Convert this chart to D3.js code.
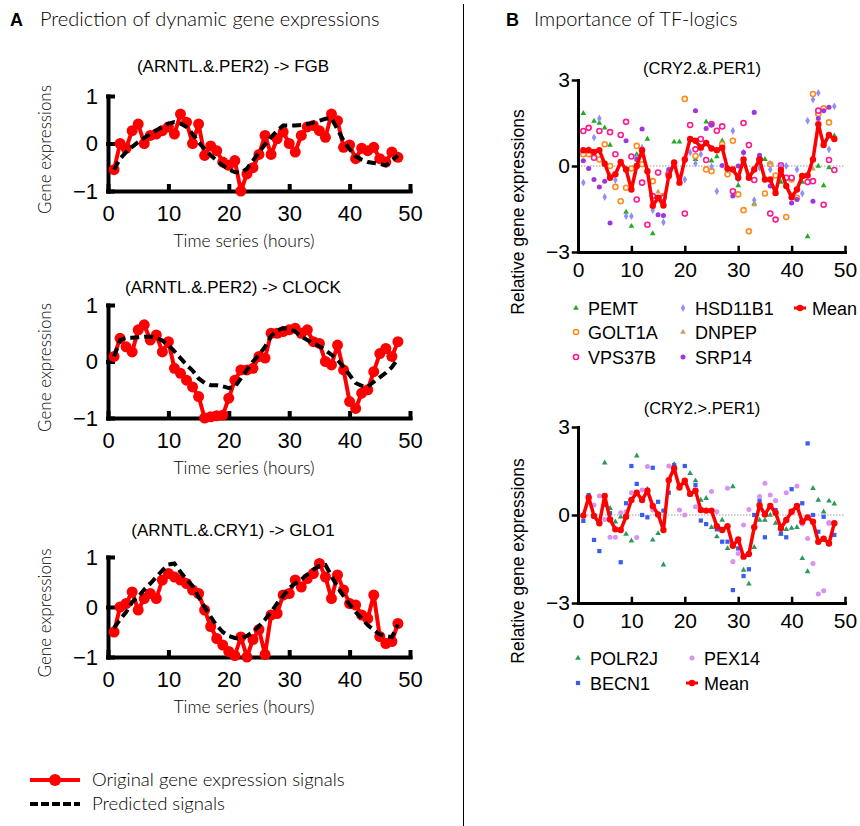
<!DOCTYPE html>
<html>
<head>
<meta charset="utf-8">
<script src="https://cdn.jsdelivr.net/npm/d3@7"></script>
<style>
body { margin: 0; background: #fff; }
.head { font-family: Lato, "Open Sans", sans-serif; font-weight: 300; font-size: 20px; }
.lbl { font-family: Lato, "Open Sans", sans-serif; font-weight: 300; font-size: 17px; }
.ptitle { font-family: "Liberation Sans", Arial, sans-serif; font-size: 17px; }
.rlab { font-family: "Liberation Sans", Arial, sans-serif; font-size: 17.5px; }
.leg { font-family: "Liberation Sans", Arial, sans-serif; font-size: 18px; }
.axis text { font-family: "Liberation Sans", Arial, sans-serif; fill: #000; }
.axis line, .axis path { stroke: #000; stroke-linecap: square; }
</style>
</head>
<body>
<svg id="chart" width="860" height="826"></svg>
<script>
var hours = [1,2,3,4,5,6,7,8,9,10,11,12,13,14,15,16,17,18,19,20,21,22,23,24,
             25,26,27,28,29,30,31,32,33,34,35,36,37,38,39,40,41,42,43,44,45,46,47,48];

// panel A: original vs predicted
var fgbOrig = [-0.55,0.0,-0.1,0.27,0.41,0.0,0.17,0.2,0.27,0.35,
               0.2,0.62,0.45,0.0,0.41,-0.25,-0.05,-0.15,-0.39,-0.46,
               -0.36,-1.0,-0.64,-0.51,-0.23,0.17,-0.23,0.1,0.24,0.0,
               -0.18,0.17,0.35,0.38,0.27,0.13,0.62,0.48,-0.08,-0.03,
               -0.32,-0.1,-0.15,-0.08,-0.32,-0.39,-0.18,-0.29];
var fgbPred = [-0.55,-0.32,-0.18,-0.07,0.03,0.12,0.2,0.28,0.35,0.42,
               0.45,0.42,0.35,0.2,0.03,-0.12,-0.25,-0.36,-0.46,-0.55,
               -0.6,-0.62,-0.53,-0.36,-0.18,-0.02,0.13,0.27,0.38,0.38,
               0.38,0.39,0.41,0.44,0.48,0.52,0.53,0.3,0.06,-0.12,
               -0.27,-0.34,-0.39,-0.41,-0.43,-0.46,-0.36,-0.25];
var clockOrig = [0.09,0.41,0.26,0.17,0.56,0.65,0.38,0.47,0.17,0.35,
                 -0.12,-0.21,-0.33,-0.45,-0.62,-1.0,-0.98,-0.96,-0.95,-0.65,
                 -0.33,-0.15,-0.15,-0.12,0.09,0.06,0.5,0.5,0.53,0.56,
                 0.59,0.5,0.56,0.35,0.32,0.0,-0.06,0.29,-0.15,-0.71,
                 -0.83,-0.56,-0.5,-0.18,0.14,0.23,0.09,0.35];
var clockPred = [0.09,0.38,0.42,0.42,0.43,0.44,0.44,0.42,0.37,0.29,
                 0.18,0.06,-0.06,-0.16,-0.3,-0.38,-0.42,-0.42,-0.44,-0.47,
                 -0.45,-0.3,-0.15,0.0,0.12,0.26,0.45,0.55,0.59,0.58,
                 0.53,0.44,0.38,0.32,0.27,0.2,0.12,0.03,-0.1,-0.24,
                 -0.38,-0.43,-0.45,-0.36,-0.28,-0.2,-0.1,0.05];
var glo1Orig = [-0.5,0.0,0.07,0.3,-0.06,0.17,0.27,0.17,0.54,0.67,
                0.6,0.54,0.47,0.34,0.27,-0.06,-0.39,-0.63,-0.76,-0.89,
                -0.97,-0.6,-1.0,-0.65,-0.45,-0.95,-0.16,-0.13,0.24,0.27,
                0.54,0.4,0.57,0.67,0.87,0.6,0.17,0.64,0.34,0.07,
                0.04,-0.16,-0.23,0.24,-0.59,-0.73,-0.69,-0.33];
var glo1Pred = [-0.42,-0.25,-0.1,0.1,0.2,0.35,0.47,0.6,0.73,0.85,
                0.87,0.7,0.55,0.42,0.2,0.0,-0.2,-0.37,-0.5,-0.58,
                -0.62,-0.63,-0.58,-0.5,-0.38,-0.25,-0.1,0.07,0.22,0.38,
                0.47,0.55,0.65,0.75,0.82,0.84,0.62,0.4,0.22,0.05,
                -0.1,-0.23,-0.36,-0.46,-0.55,-0.58,-0.6,-0.35];

// panel B: means and gene points [hour, value]
var meanAnd = [0.55,0.55,0.49,0.55,0.08,-0.41,-0.29,0.14,-0.12,-0.82,
               0.0,0.55,-0.18,-1.39,-1.11,-1.38,-0.35,0.12,-0.58,0.23,
               0.94,0.88,0.64,0.8,0.61,0.55,0.64,-0.09,-0.12,-0.41,
               0.23,-0.41,-0.12,0.23,-0.47,-0.47,-0.94,-0.14,-0.7,-1.09,
               -0.82,-0.35,-0.33,0.23,1.46,0.73,1.08,0.94];
var meanGt = [-0.02,0.6,-0.03,-0.28,0.65,-0.15,-0.49,-0.51,-0.06,0.51,
              0.76,0.51,0.83,0.31,0.02,-0.51,1.19,1.59,0.94,1.17,
              0.72,0.83,0.17,0.15,0.15,-0.38,-0.51,-0.38,-1.05,-0.83,
              -1.42,-1.33,-0.42,0.33,0.02,0.31,0.08,-0.45,-0.17,0.11,
              0.31,-0.23,-0.08,-0.23,-0.91,-0.81,-0.97,-0.28];

var pemtPts = [[1,1.84],[3,1.57],[4,1.5],[5,1.33],[6,0.73],[9,-1.61],[10,-2.1],[11,0.41],[13,0.94],[14,-2.36],
  [18,0.84],[19,0.84],[22,0.23],[24,1.54],[25,0.18],[26,0.33],[27,0.88],[30,-0.68],[33,-1.31],[35,0.23],
  [38,-0.56],[42,-0.56],[43,-2.46],[45,0.0],[46,-0.68],[47,-0.06],[48,1.05]];
var golt1aPts = [[1,0.41],[2,0.41],[4,0.23],[5,0.76],[6,0.0],[7,-0.73],[8,-1.23],[9,-0.76],[10,-0.09],[11,0.7],
  [12,0.06],[14,-0.53],[16,-1.05],[17,-0.29],[20,2.34],[22,0.35],[24,-0.12],[25,-0.18],[27,0.76],[28,-0.29],
  [29,0.88],[30,-0.99],[31,-1.54],[32,-2.28],[35,-0.96],[36,0.06],[37,-0.33],[39,-1.78],[40,-0.47],[41,-1.11],
  [42,-0.35],[44,2.51],[45,1.81],[46,2.01],[47,1.52]];
var vps37bPts = [[1,1.22],[2,1.33],[3,0.29],[4,1.22],[6,1.18],[7,0.41],[8,1.08],[9,1.54],[10,0.33],[11,-1.17],
  [12,-0.58],[13,-2.05],[14,-1.05],[15,-0.23],[16,-1.11],[17,-0.26],[20,-1.66],[21,1.43],[22,0.58],[23,0.94],
  [24,0.21],[25,1.46],[26,1.23],[27,1.38],[29,-0.88],[31,1.5],[32,0.73],[33,-0.49],[34,0.23],[36,-1.66],
  [37,-1.87],[38,0.02],[39,-0.41],[40,-0.41],[43,-0.56],[44,-0.53],[45,1.93],[46,-1.35],[47,0.21],[48,-0.14]];
var hsd11b1Pts = [[1,-0.58],[3,0.99],[4,1.66],[5,-1.08],[7,-0.49],[9,-1.75],[10,-1.75],[11,0.29],[12,0.64],[14,-1.54],
  [16,-1.96],[17,-0.23],[20,-0.47],[21,0.47],[22,0.09],[23,0.41],[25,-0.02],[26,-0.88],[29,1.23],[30,-0.47],
  [31,0.47],[33,-1.19],[34,-0.06],[36,-0.12],[38,0.0],[39,0.0],[41,-0.12],[42,-0.96],[43,1.58],[44,2.32],
  [45,2.55],[47,0.58],[48,2.08]];
var dnpepPts = [[2,0.6],[6,-0.3],[12,0.4],[15,-0.9],[19,-0.4],[23,0.7],[28,-0.2],[33,-1.35],[36,0.1],[40,-1.0],
  [44,-0.1],[47,1.1]];
var srp14Pts = [[1,0.18],[2,-0.09],[3,-0.47],[4,-0.73],[5,-0.53],[6,-1.99],[9,0.88],[11,0.23],[12,1.29],[15,-1.7],
  [16,-1.73],[17,-0.12],[22,1.93],[24,1.31],[25,1.43],[27,0.02],[29,-1.05],[30,0.0],[31,0.47],[33,1.87],
  [34,0.37],[36,-0.7],[38,-0.23],[40,-1.29],[41,-1.17],[44,-1.23],[45,1.66],[46,1.93],[47,2.05]];
var polr2jPts = [[5,1.78],[6,0.23],[7,-0.23],[8,-0.06],[9,-0.65],[10,-0.88],[11,2.02],[13,0.88],[14,-0.85],[15,-0.63],
  [16,-1.7],[18,1.73],[21,1.42],[22,1.17],[23,0.51],[24,0.57],[25,-0.42],[26,-0.74],[27,-0.17],[28,-1.14],
  [29,0.97],[31,-1.88],[32,-2.35],[33,-1.1],[34,-0.17],[35,-0.17],[36,0.0],[37,-0.28],[38,-0.65],[39,-0.49],
  [40,-0.45],[41,-0.42],[42,-1.48],[43,-1.93],[44,0.91],[45,0.51],[46,0.11],[47,0.48],[48,0.38]];
var becn1Pts = [[1,-0.2],[2,0.68],[3,-0.85],[4,-1.23],[5,0.34],[6,0.06],[8,-1.61],[9,0.4],[10,1.67],[11,1.06],
  [12,0.0],[13,-0.08],[14,1.61],[15,0.45],[16,0.15],[17,0.76],[18,1.7],[20,1.67],[22,1.02],[23,-0.19],
  [24,-0.31],[26,-0.49],[27,-0.91],[28,-0.91],[29,-2.56],[30,-1.14],[31,-2.08],[32,-1.85],[33,0.0],[34,0.49],
  [35,-0.76],[37,0.17],[38,-0.63],[39,-0.76],[40,0.88],[42,0.4],[43,2.44],[44,0.0],[45,-0.57],[46,-0.06],
  [47,-0.28],[48,-0.68]];
var pex14Pts = [[3,0.34],[4,0.65],[5,-0.15],[6,-0.76],[7,-0.76],[8,0.08],[9,0.11],[10,0.76],[11,-0.77],[12,0.85],
  [13,1.65],[14,0.17],[17,1.67],[19,0.17],[20,0.0],[22,0.28],[25,0.8],[26,0.11],[28,0.91],[29,-1.59],
  [30,-1.31],[31,-0.34],[32,0.19],[34,0.63],[35,1.08],[36,0.68],[37,0.49],[39,0.76],[41,0.99],[42,-0.31],
  [43,-0.8],[44,-1.65],[45,-2.69],[46,-2.58],[47,-0.26]];

var svg = d3.select("#chart");

// headings
svg.append("text").attr("x", 10).attr("y", 26)
    .style("font-family", "'Liberation Sans', Arial").style("font-weight", "bold").style("font-size", "18px").text("A");
svg.append("text").attr("class", "head").attr("x", 40).attr("y", 26).text("Prediction of dynamic gene expressions");
svg.append("text").attr("x", 506).attr("y", 26)
    .style("font-family", "'Liberation Sans', Arial").style("font-weight", "bold").style("font-size", "18px").text("B");
svg.append("text").attr("class", "head").attr("x", 534).attr("y", 26).text("Importance of TF-logics");

svg.append("line").attr("x1", 463.5).attr("x2", 463.5).attr("y1", 4).attr("y2", 826)
    .attr("stroke", "#000").attr("stroke-width", 1);

function linePanel(title, orig, pred, top, bottom, titleY) {
    var x = d3.scaleLinear().domain([0, 50]).range([108, 410]);
    var y = d3.scaleLinear().domain([-1, 1]).range([bottom, top]);
    var g = svg.append("g");

    g.append("text").attr("class", "ptitle").attr("x", 233).attr("y", titleY)
        .attr("text-anchor", "middle").text(title);

    var xAxis = d3.axisBottom(x).tickValues([0, 10, 20, 30, 40, 50])
        .tickSizeInner(-5).tickSizeOuter(0).tickPadding(14);
    var yAxis = d3.axisLeft(y).tickValues([-1, 0, 1])
        .tickSizeInner(-5).tickSizeOuter(0).tickPadding(10).tickFormat(d3.format("d"));

    g.append("g").attr("class", "axis").attr("transform", "translate(0," + bottom + ")").call(xAxis);
    g.append("g").attr("class", "axis").attr("transform", "translate(108,0)").call(yAxis);
    g.selectAll(".axis path").attr("stroke-width", 4);
    g.selectAll(".axis line").attr("stroke-width", 4);
    g.selectAll(".axis text").style("font-size", "22px");

    g.append("text").attr("class", "lbl").style("font-size", "17.5px").attr("x", 244).attr("y", bottom + 56)
        .attr("text-anchor", "middle").text("Time series (hours)");
    g.append("text").attr("class", "lbl").attr("text-anchor", "middle")
        .attr("transform", "translate(45," + ((top + bottom) / 2 + 6) + ") rotate(-90)")
        .attr("dy", "0.35em").text("Gene expressions");

    var line = d3.line().x(function(d, i) { return x(hours[i]); }).y(function(d) { return y(d); });

    g.append("path").attr("d", line(orig)).attr("fill", "none")
        .attr("stroke", "#ff0000").attr("stroke-width", 4).attr("stroke-linejoin", "round");
    g.selectAll("circle.pt").data(orig).enter().append("circle")
        .attr("cx", function(d, i) { return x(hours[i]); })
        .attr("cy", function(d) { return y(d); })
        .attr("r", 5.5).attr("fill", "#ff0000");
    g.append("path").attr("d", line(pred)).attr("fill", "none")
        .attr("stroke", "#000").attr("stroke-width", 4).attr("stroke-dasharray", "9,5");
}

linePanel("(ARNTL.&.PER2) -> FGB", fgbOrig, fgbPred, 96, 191, 72);
linePanel("(ARNTL.&.PER2) -> CLOCK", clockOrig, clockPred, 305, 418, 293);
linePanel("(ARNTL.&.CRY1) -> GLO1", glo1Orig, glo1Pred, 557, 657, 536);

// bottom legend for A
svg.append("line").attr("x1", 30).attr("x2", 80).attr("y1", 780).attr("y2", 780)
    .attr("stroke", "#ff0000").attr("stroke-width", 4);
svg.append("circle").attr("cx", 55).attr("cy", 780).attr("r", 6).attr("fill", "#ff0000");
svg.append("text").attr("class", "lbl").style("font-size", "18.5px").attr("x", 92).attr("y", 786)
    .text("Original gene expression signals");
svg.append("line").attr("x1", 30).attr("x2", 80).attr("y1", 804).attr("y2", 804)
    .attr("stroke", "#000").attr("stroke-width", 4).attr("stroke-dasharray", "8,3");
svg.append("text").attr("class", "lbl").style("font-size", "18.5px").attr("x", 92).attr("y", 810)
    .text("Predicted signals");

var shapes = {
    triangle: d3.symbolTriangle, circle: d3.symbolCircle,
    diamond: d3.symbolDiamond, square: d3.symbolSquare
};

function marker(g, s, cx, cy) {
    var sym = d3.symbol().type(shapes[s.shape]).size(s.size);
    g.append("path").attr("d", sym)
        .attr("transform", "translate(" + cx + "," + cy + ")")
        .attr("fill", s.ring ? "#fff" : s.color)
        .attr("stroke", s.ring ? s.color : "none")
        .attr("stroke-width", s.ring ? 1.6 : 0);
}

function scatterPanel(title, series, mean, top, bottom, titleY) {
    var x = d3.scaleLinear().domain([0, 50]).range([578, 845]);
    var y = d3.scaleLinear().domain([-3, 3]).range([bottom, top]);
    var g = svg.append("g");

    g.append("text").attr("class", "ptitle").style("font-size", "16.5px").attr("x", 702).attr("y", titleY)
        .attr("text-anchor", "middle").text(title);

    g.append("line").attr("x1", x(0)).attr("x2", x(50)).attr("y1", y(0)).attr("y2", y(0))
        .attr("stroke", "#999").attr("stroke-width", 1).attr("stroke-dasharray", "1.5,1.5");

    series.forEach(function(s) {
        s.pts.forEach(function(p) { marker(g, s, x(p[0]), y(p[1])); });
    });

    var line = d3.line().x(function(d, i) { return x(hours[i]); }).y(function(d) { return y(d); });
    g.append("path").attr("d", line(mean)).attr("fill", "none")
        .attr("stroke", "#ff0000").attr("stroke-width", 3.5).attr("stroke-linejoin", "round");
    g.selectAll("circle.m").data(mean).enter().append("circle")
        .attr("cx", function(d, i) { return x(hours[i]); })
        .attr("cy", function(d) { return y(d); })
        .attr("r", 3.2).attr("fill", "#ff0000");

    var xAxis = d3.axisBottom(x).tickValues([0, 10, 20, 30, 40, 50])
        .tickSizeInner(-5).tickSizeOuter(0).tickPadding(10);
    var yAxis = d3.axisLeft(y).tickValues([-3, 0, 3])
        .tickSizeInner(5).tickSizeOuter(0).tickPadding(3).tickFormat(d3.format("d"));
    g.append("g").attr("class", "axis").attr("transform", "translate(0," + bottom + ")").call(xAxis);
    g.append("g").attr("class", "axis").attr("transform", "translate(578,0)").call(yAxis);
    g.selectAll(".axis path").attr("stroke-width", 3);
    g.selectAll(".axis line").attr("stroke-width", 2.5);
    g.selectAll(".axis text").style("font-size", "21px");

    g.append("text").attr("class", "rlab").attr("text-anchor", "middle")
        .attr("transform", "translate(518," + ((top + bottom) / 2 + 46) + ") rotate(-90)")
        .attr("dy", "0.35em").text("Relative gene expressions");
    return g;
}

var andSeries = [
    { name: "PEMT", pts: pemtPts, color: "#22aa22", shape: "triangle", size: 14 },
    { name: "GOLT1A", pts: golt1aPts, color: "#ff8c1e", shape: "circle", size: 20, ring: true },
    { name: "VPS37B", pts: vps37bPts, color: "#ff1a90", shape: "circle", size: 20, ring: true },
    { name: "HSD11B1", pts: hsd11b1Pts, color: "#9090f8", shape: "diamond", size: 18 },
    { name: "DNPEP", pts: dnpepPts, color: "#c8a064", shape: "triangle", size: 14 },
    { name: "SRP14", pts: srp14Pts, color: "#a035e0", shape: "circle", size: 20 }
];
var gtSeries = [
    { name: "POLR2J", pts: polr2jPts, color: "#2a9a5c", shape: "triangle", size: 14 },
    { name: "BECN1", pts: becn1Pts, color: "#3a5cf0", shape: "square", size: 18 },
    { name: "PEX14", pts: pex14Pts, color: "#d892f0", shape: "circle", size: 20 }
];

var g1 = scatterPanel("(CRY2.&.PER1)", andSeries, meanAnd, 80, 252, 74);
var g2 = scatterPanel("(CRY2.>.PER1)", gtSeries, meanGt, 427, 603, 414);

function legend(g, items, colX, rowY) {
    items.forEach(function(it) {
        var mx = colX[it.col], my = rowY[it.row];
        if (it.mean) {
            g.append("line").attr("x1", mx - 6).attr("x2", mx + 6).attr("y1", my).attr("y2", my)
                .attr("stroke", "#ff0000").attr("stroke-width", 3);
            g.append("circle").attr("cx", mx).attr("cy", my).attr("r", 3.2).attr("fill", "#ff0000");
        } else {
            marker(g, it.s, mx, my);
        }
        g.append("text").attr("class", "leg").attr("x", mx + 12).attr("y", my + 7).text(it.label);
    });
}

legend(g1, [
    { col: 0, row: 0, s: andSeries[0], label: "PEMT" },
    { col: 0, row: 1, s: andSeries[1], label: "GOLT1A" },
    { col: 0, row: 2, s: andSeries[2], label: "VPS37B" },
    { col: 1, row: 0, s: andSeries[3], label: "HSD11B1" },
    { col: 1, row: 1, s: andSeries[4], label: "DNPEP" },
    { col: 1, row: 2, s: andSeries[5], label: "SRP14" },
    { col: 2, row: 0, mean: true, label: "Mean" }
], [576, 683, 800], [308, 332, 357]);

legend(g2, [
    { col: 0, row: 0, s: gtSeries[0], label: "POLR2J" },
    { col: 0, row: 1, s: gtSeries[1], label: "BECN1" },
    { col: 1, row: 0, s: gtSeries[2], label: "PEX14" },
    { col: 1, row: 1, mean: true, label: "Mean" }
], [578, 692], [658, 683]);
</script>
</body>
</html>
